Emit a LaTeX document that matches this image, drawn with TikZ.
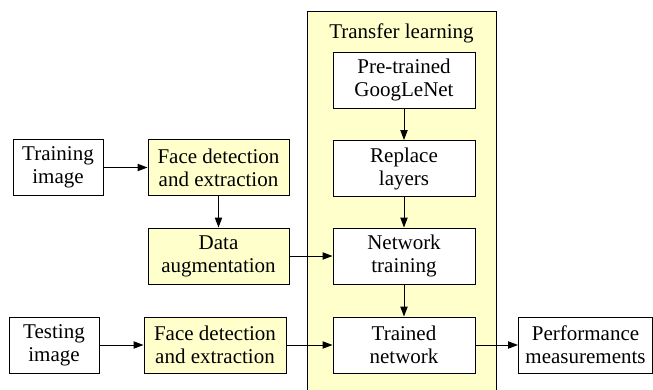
\documentclass[tikz,border=0pt]{standalone}
\usepackage{fontspec}
\setmainfont{Liberation Serif}
\usetikzlibrary{arrows.meta}
\definecolor{clfill}{RGB}{255,255,204}
\begin{document}
\begin{tikzpicture}[x=0.75pt,y=-0.75pt,
  txt/.style={font=\fontsize{15.75}{17.25}\selectfont},
  box/.style={draw,line width=0.75pt,inner sep=0pt,align=center,minimum height=42pt,txt},
  wbox/.style={box,fill=white},
  ybox/.style={box,fill=clfill},
  arr/.style={-{Triangle[length=7.5pt,width=5.5pt]},line width=0.75pt}]
\useasboundingbox (0,0) rectangle (653,389);
\draw[fill=clfill,line width=0.75pt] (307,11) rectangle (496,395);
\node[txt,anchor=base] (cl) at (401.5,38) {Transfer learning};
\node[wbox,minimum width=67.5pt] (train) at (58,167.5) {Training\\image};
\node[ybox,minimum width=105.75pt] (fd1) at (218.5,167.5) {Face detection\\and extraction};
\node[ybox,minimum width=105.75pt] (aug) at (218.5,256) {Data\\augmentation};
\node[wbox,minimum width=67.5pt] (test) at (54,345) {Testing\\image};
\node[ybox,minimum width=106.5pt] (fd2) at (215,345) {Face detection\\and extraction};
\node[wbox,minimum width=106.5pt] (pre) at (404,80) {Pre-trained\\GoogLeNet};
\node[wbox,minimum width=106.5pt] (rep) at (404,168.5) {Replace\\layers};
\node[wbox,minimum width=106.5pt] (net) at (404,256) {Network\\training};
\node[wbox,minimum width=106.5pt] (trn) at (404,345) {Trained\\network};
\node[wbox,minimum width=100.5pt] (perf) at (585.5,345) {Performance\\measurements};
\draw[arr] (train) -- (fd1);
\draw[arr] (fd1) -- (aug);
\draw[arr] (aug) -- (net);
\draw[arr] (test) -- (fd2);
\draw[arr] (fd2) -- (trn);
\draw[arr] (pre) -- (rep);
\draw[arr] (rep) -- (net);
\draw[arr] (net) -- (trn);
\draw[arr] (trn) -- (perf);
\end{tikzpicture}
\end{document}
